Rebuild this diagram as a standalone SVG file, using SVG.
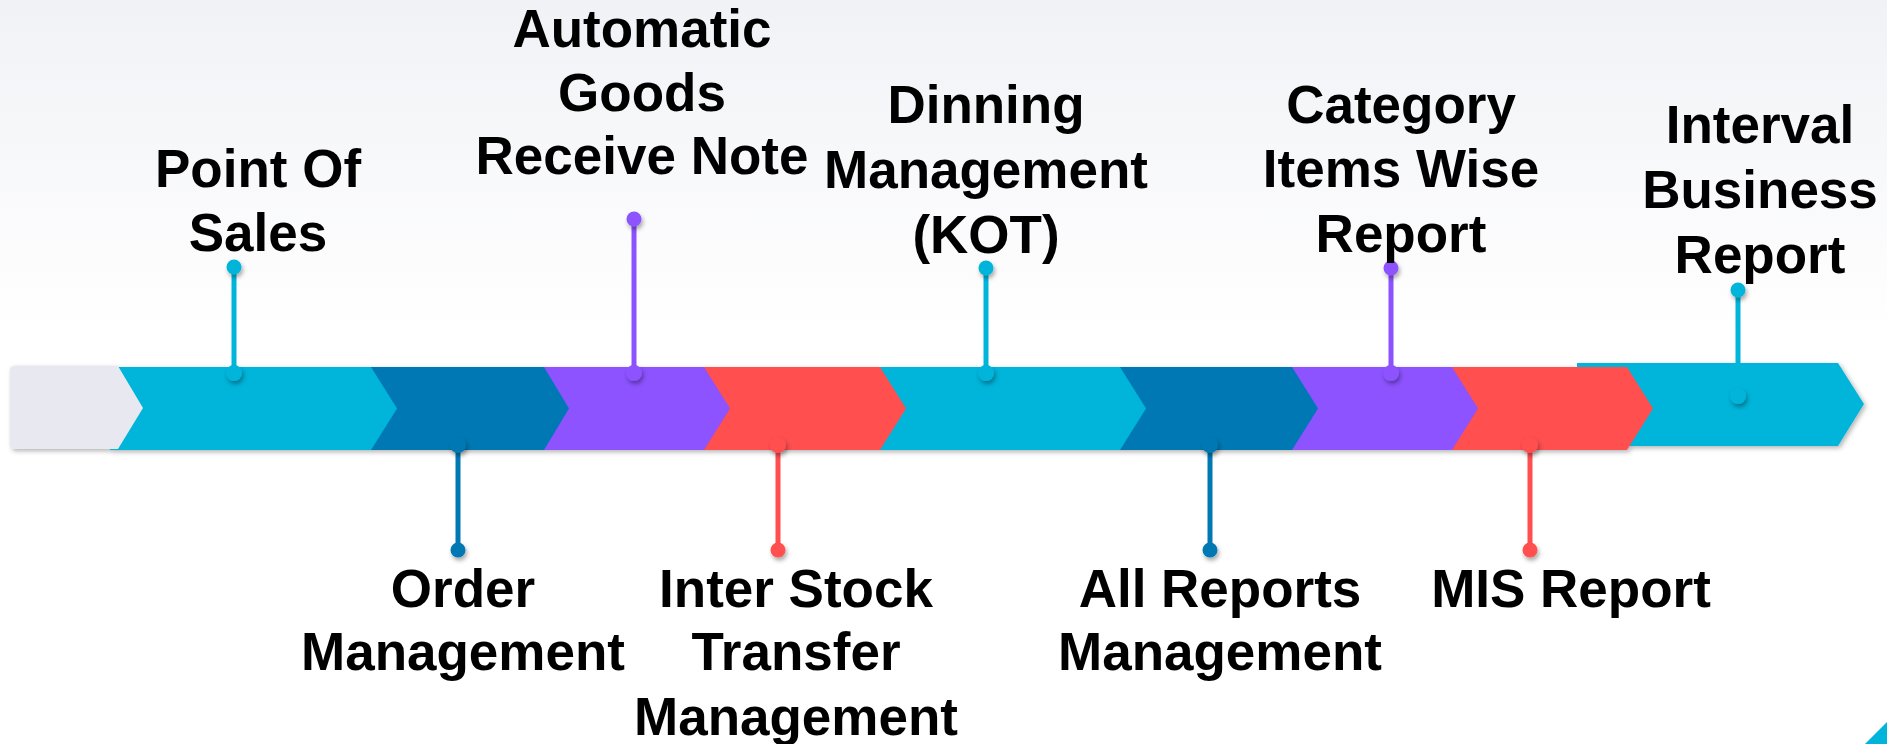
<svg xmlns="http://www.w3.org/2000/svg" width="1887" height="744" viewBox="0 0 1887 744">
  <defs>
    <linearGradient id="bg" x1="0" y1="0" x2="0" y2="1">
      <stop offset="0" stop-color="#f1f2f6"/>
      <stop offset="0.45" stop-color="#ffffff"/>
      <stop offset="1" stop-color="#ffffff"/>
    </linearGradient>
    <filter id="sh" x="-10%" y="-30%" width="130%" height="160%">
      <feDropShadow dx="2" dy="2" stdDeviation="2.5" flood-color="#000" flood-opacity="0.3"/>
    </filter>
    <filter id="dsh" x="-100%" y="-100%" width="300%" height="300%">
      <feDropShadow dx="1.5" dy="3" stdDeviation="2" flood-color="#000" flood-opacity="0.35"/>
    </filter>
  </defs>
  <style>
    .lbl { font-family: "Liberation Sans", Arial, sans-serif; font-weight: bold; font-size: 53px; fill: #000; text-anchor: middle; }
    .cy { fill: #00b4da; }
    .db { fill: #0078b4; }
    .pu { fill: #8c52ff; }
    .rd { fill: #ff4f4f; }
    .gr { fill: #e8e9f0; }
    .pin { stroke-width: 5; fill: none; }
    .dot { filter: url(#dsh); }
  </style>
  <rect x="0" y="0" width="1887" height="744" fill="url(#bg)"/>
  <polygon points="1865,744 1887,722 1887,744" class="cy"/>

  <!-- chevron band (drawn right to left so each tip overlaps the next) -->
  <g id="band" filter="url(#sh)">
    <polygon class="cy" points="1577,363 1838,363 1864,404 1838,446 1577,446"/>
    <polygon class="rd" points="1440,367 1627,367 1653,408.5 1627,450 1440,450"/>
    <polygon class="pu" points="1280,367 1452,367 1478,408.5 1452,450 1280,450"/>
    <polygon class="db" points="1110,367 1292,367 1318,408.5 1292,450 1110,450"/>
    <polygon class="cy" points="870,367 1120,367 1146,408.5 1120,450 870,450"/>
    <polygon class="rd" points="695,367 880,367 906,408.5 880,450 695,450"/>
    <polygon class="pu" points="535,367 704,367 730,408.5 704,450 535,450"/>
    <polygon class="db" points="360,367 544,367 569,408.5 544,450 360,450"/>
    <polygon class="cy" points="110,367 371,367 397,408.5 371,450 110,450"/>
    <path class="gr" d="M14,366 L118,366 L143,408 L118,449 L14,449 Q10,449 10,445 L10,370 Q10,366 14,366 Z"/>
  </g>

  <!-- connectors (pins) -->
  <g id="connectors">
    <line class="pin" stroke="#00b4da" x1="234" y1="267" x2="234" y2="373"/>
    <line class="pin" stroke="#0078b4" x1="458" y1="445" x2="458" y2="550"/>
    <line class="pin" stroke="#8c52ff" x1="634" y1="219" x2="634" y2="373"/>
    <line class="pin" stroke="#ff4f4f" x1="778" y1="445" x2="778" y2="550"/>
    <line class="pin" stroke="#00b4da" x1="986" y1="268" x2="986" y2="373"/>
    <line class="pin" stroke="#0078b4" x1="1210" y1="445" x2="1210" y2="550"/>
    <line class="pin" stroke="#8c52ff" x1="1391" y1="268" x2="1391" y2="373"/>
    <line class="pin" stroke="#ff4f4f" x1="1530" y1="445" x2="1530" y2="550"/>
    <line class="pin" stroke="#00b4da" x1="1738" y1="290" x2="1738" y2="396"/>
  </g>

  <g id="step-pos">
    <circle class="cy dot" cx="234" cy="267" r="7.5"/>
    <circle class="cy dot" cx="234" cy="373" r="8"/>
    <text class="lbl" x="258" y="187">Point Of</text>
    <text class="lbl" x="258" y="251">Sales</text>
  </g>
  <g id="step-order">
    <circle class="db dot" cx="458" cy="445" r="8"/>
    <circle class="db dot" cx="458" cy="550" r="7.5"/>
    <text class="lbl" x="463" y="607">Order</text>
    <text class="lbl" x="463" y="670">Management</text>
  </g>
  <g id="step-agrn">
    <circle class="pu dot" cx="634" cy="219" r="7.5"/>
    <circle class="pu dot" cx="634" cy="373" r="8"/>
    <text class="lbl" x="642" y="47">Automatic</text>
    <text class="lbl" x="642" y="111">Goods</text>
    <text class="lbl" x="642" y="174">Receive Note</text>
  </g>
  <g id="step-ist">
    <circle class="rd dot" cx="778" cy="445" r="8"/>
    <circle class="rd dot" cx="778" cy="550" r="7.5"/>
    <text class="lbl" x="796" y="607">Inter Stock</text>
    <text class="lbl" x="796" y="670">Transfer</text>
    <text class="lbl" x="796" y="735">Management</text>
  </g>
  <g id="step-dinning">
    <circle class="cy dot" cx="986" cy="268" r="7.5"/>
    <circle class="cy dot" cx="986" cy="373" r="8"/>
    <text class="lbl" x="986" y="123">Dinning</text>
    <text class="lbl" x="986" y="188">Management</text>
    <text class="lbl" x="986" y="253">(KOT)</text>
  </g>
  <g id="step-allreports">
    <circle class="db dot" cx="1210" cy="445" r="8"/>
    <circle class="db dot" cx="1210" cy="550" r="7.5"/>
    <text class="lbl" x="1220" y="607">All Reports</text>
    <text class="lbl" x="1220" y="670">Management</text>
  </g>
  <g id="step-category">
    <circle class="pu dot" cx="1391" cy="268" r="7.5"/>
    <circle class="pu dot" cx="1391" cy="373" r="8"/>
    <text class="lbl" x="1401" y="123">Category</text>
    <text class="lbl" x="1401" y="187">Items Wise</text>
    <text class="lbl" x="1401" y="252">Report</text>
  </g>
  <g id="step-mis">
    <circle class="rd dot" cx="1530" cy="445" r="8"/>
    <circle class="rd dot" cx="1530" cy="550" r="7.5"/>
    <text class="lbl" x="1571" y="607">MIS Report</text>
  </g>
  <g id="step-interval">
    <circle class="cy dot" cx="1738" cy="290" r="7.5"/>
    <circle class="cy dot" cx="1738" cy="396" r="8"/>
    <text class="lbl" x="1760" y="143">Interval</text>
    <text class="lbl" x="1760" y="208">Business</text>
    <text class="lbl" x="1760" y="273">Report</text>
  </g>
</svg>
